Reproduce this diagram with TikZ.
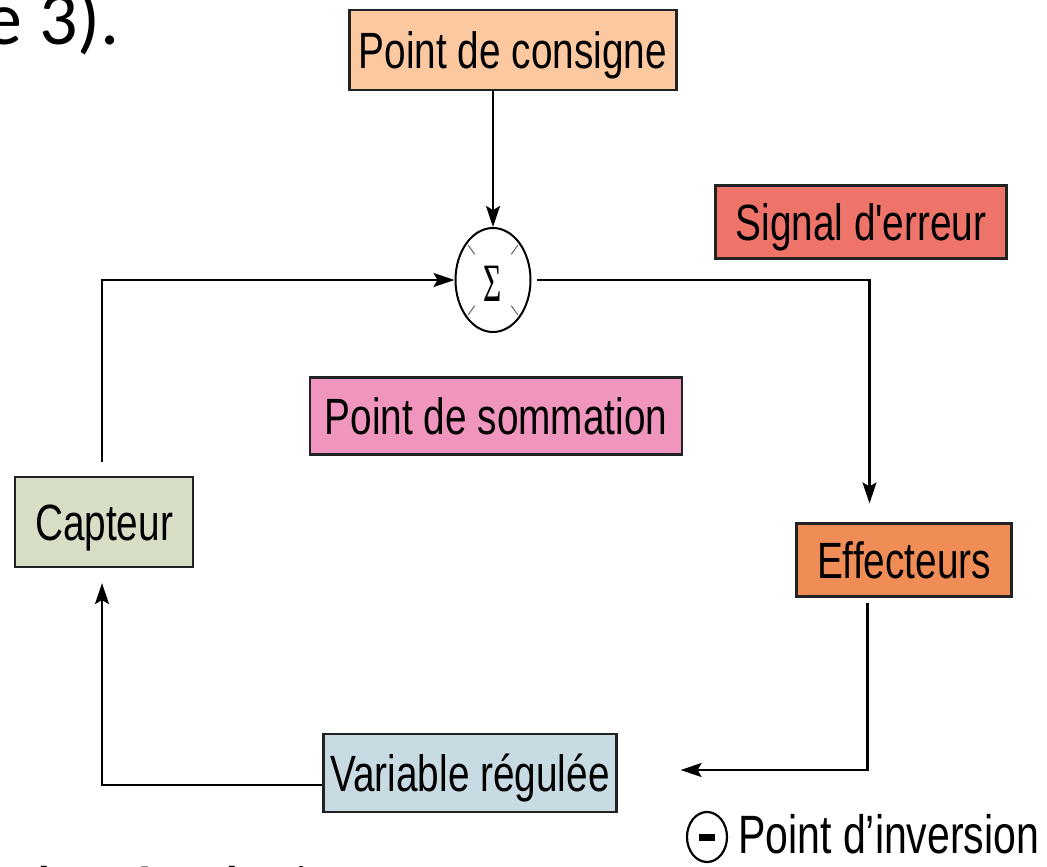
\documentclass[tikz,border=0pt]{standalone}
\usepackage{fontspec}
\newfontfamily\labfont{Liberation Sans}[FakeStretch=0.76]
\newfontfamily\slidefont{Carlito}
\newfontfamily\sigfont{Liberation Serif}[FakeStretch=0.58]
\usetikzlibrary{arrows.meta,shapes.geometric,calc}
\definecolor{boxline}{HTML}{222222}
\definecolor{cConsigne}{HTML}{FCC8A0}
\definecolor{cSignal}{HTML}{EE7369}
\definecolor{cSomme}{HTML}{F096BE}
\definecolor{cEff}{HTML}{F08C55}
\definecolor{cCapt}{HTML}{D6DEC6}
\definecolor{cVar}{HTML}{C8DAE2}
\begin{document}
\begin{tikzpicture}[x=1pt,y=-1pt,
  box/.style={draw=boxline, line width=2.2pt, inner sep=0pt,
    text height=36.5pt, text depth=0pt,
    font=\labfont\fontsize{51}{51}\selectfont},
  arr/.style={line width=2.1pt, draw=black, -{Stealth[length=21pt,width=14pt,inset=4pt]}},
  slide/.style={inner sep=0pt}]
\useasboundingbox (0,0) rectangle (1047,867);
\clip (0,0) rectangle (1047,867);
\fill[white] (0,0) rectangle (1047,867);

% fragments of the slide text
\node[slide, anchor=base east, font=\slidefont\fontsize{76}{76}\selectfont] (t1) at (120,45) {e 3).};
\node[slide, anchor=base west, font=\slidefont\fontsize{68}{68}\selectfont] (t2) at (36,913) {la régulation};

% boxes
\node[box, fill=cConsigne, minimum width=327pt, minimum height=80pt] (consigne) at (513,50) {Point de consigne};
\node[box, fill=cSignal, minimum width=291pt, minimum height=73pt] (signal) at (861,222) {Signal d'erreur};
\node[box, fill=cSomme, minimum width=372pt, minimum height=77pt] (somme) at (496,416) {Point de sommation};
\node[box, fill=cEff, minimum width=215pt, minimum height=73pt] (eff) at (904,560) {Effecteurs};
\node[box, fill=cCapt, minimum width=178pt, minimum height=90pt] (capt) at (104,522) {Capteur};
\node[box, fill=cVar, minimum width=293pt, minimum height=78pt] (var) at (470,773) {Variable régulée};

% summing junction
\node[ellipse, draw=black, line width=2pt, inner sep=0pt, minimum width=75pt, minimum height=104pt] (sum) at (493,280) {};
\node[inner sep=0pt, font=\sigfont\fontsize{54}{54}\selectfont] (sig) at ([yshift=-4pt]sum.center) {Σ};
\foreach \a in {45,135,225,315}{
  \draw[line width=1pt, black!60] ($(sum.center)+({0.70*37*cos(\a)},{0.70*52*sin(\a)})$) -- ($(sum.center)+({0.95*37*cos(\a)},{0.95*52*sin(\a)})$);
}

% connectors
\draw[arr] (sum.north |- consigne.south) -- (sum.north);
\draw[arr, shorten <=14pt] ([xshift=-2pt]capt.north) |- (sum.west);
\draw[arr, shorten <=5pt, shorten >=19pt] (sum.east) -| ([xshift=-34.5pt]eff.north);
\draw[arr, shorten <=5pt, shorten >=63pt] ([xshift=-36.5pt]eff.south) |- ([yshift=3pt]var.east);
\draw[arr, shorten >=15pt] ([yshift=-12pt]var.west) -| ([xshift=-2pt]capt.south);

% inversion point legend
\node[ellipse, draw=black, line width=2.2pt, inner sep=0pt, minimum width=40pt, minimum height=50pt] (inv) at (707,837) {};
\fill[black] ([xshift=-8pt,yshift=-3.5pt]inv.center) rectangle ([xshift=8pt,yshift=3.5pt]inv.center);
\node[inner sep=0pt, anchor=base west, font=\labfont\fontsize{54}{54}\selectfont] (invlab) at (738,853) {Point d’inversion};
\end{tikzpicture}
\end{document}
